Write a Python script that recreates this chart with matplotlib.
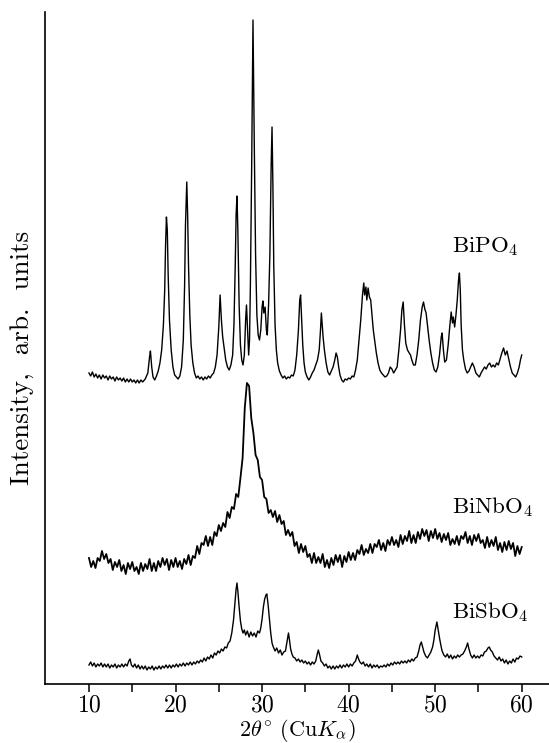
import numpy as np
import matplotlib
matplotlib.use("Agg")
import matplotlib.pyplot as plt

plt.rcParams['font.family'] = ['cmr10', 'DejaVu Serif']
plt.rcParams['mathtext.fontset'] = 'cm'
plt.rcParams['axes.formatter.use_mathtext'] = True

# ---------------- data (arbitrary intensity units, offsets included) ----------------
bipo4_x = [10.0, 10.2, 10.4, 10.6, 10.8, 11.0, 11.2, 11.4, 11.6, 11.8, 12.0, 12.2, 12.4, 12.6, 12.8,
           13.0, 13.2, 13.4, 13.6, 13.8, 14.0, 14.2, 14.4, 14.6, 14.8, 15.0, 15.2, 15.4, 15.6, 15.8,
           16.0, 16.2, 16.5, 16.8, 17.0, 17.1, 17.25, 17.4, 17.6, 17.8, 18.0, 18.2, 18.4, 18.6, 18.75,
           18.85, 18.95, 19.05, 19.15, 19.3, 19.5, 19.7, 19.9, 20.1, 20.3, 20.5, 20.7, 20.9, 21.05, 21.15,
           21.3, 21.4, 21.5, 21.65, 21.8, 22.0, 22.2, 22.4, 22.6, 22.8, 23.0, 23.2, 23.4, 23.6, 23.8,
           24.0, 24.2, 24.4, 24.6, 24.8, 25.0, 25.15, 25.3, 25.45, 25.6, 25.8, 26.0, 26.2, 26.4, 26.6,
           26.75, 26.9, 27.0, 27.1, 27.2, 27.35, 27.5, 27.65, 27.8, 27.95, 28.1, 28.2, 28.3, 28.45, 28.55,
           28.65, 28.8, 28.95, 29.1, 29.25, 29.4, 29.55, 29.7, 29.85, 30.0, 30.1, 30.2, 30.35, 30.5, 30.6,
           30.75, 30.9, 31.05, 31.15, 31.25, 31.35, 31.5, 31.65, 31.8, 32.0, 32.2, 32.4, 32.6, 32.8, 33.0,
           33.2, 33.4, 33.6, 33.8, 34.0, 34.2, 34.35, 34.45, 34.55, 34.7, 34.85, 35.0, 35.2, 35.4, 35.6,
           35.8, 36.0, 36.2, 36.4, 36.6, 36.75, 36.85, 36.95, 37.05, 37.2, 37.4, 37.6, 37.8, 38.0, 38.2,
           38.4, 38.55, 38.7, 38.85, 39.0, 39.2, 39.4, 39.6, 39.8, 40.0, 40.2, 40.4, 40.6, 40.8, 41.0,
           41.2, 41.4, 41.6, 41.75, 41.85, 42.0, 42.1, 42.25, 42.4, 42.55, 42.7, 42.85, 43.0, 43.2, 43.4,
           43.6, 43.8, 44.0, 44.2, 44.4, 44.6, 44.8, 45.0, 45.2, 45.4, 45.6, 45.8, 46.0, 46.15, 46.3,
           46.45, 46.6, 46.8, 47.0, 47.15, 47.3, 47.5, 47.7, 47.9, 48.1, 48.3, 48.5, 48.65, 48.8, 48.95,
           49.1, 49.3, 49.5, 49.7, 49.9, 50.1, 50.3, 50.5, 50.7, 50.8, 50.95, 51.1, 51.3, 51.5, 51.7,
           51.85, 52.0, 52.1, 52.25, 52.4, 52.55, 52.7, 52.8, 52.9, 53.0, 53.15, 53.3, 53.5, 53.7, 53.9,
           54.1, 54.3, 54.5, 54.7, 54.9, 55.1, 55.3, 55.5, 55.7, 55.9, 56.1, 56.3, 56.5, 56.7, 56.9,
           57.1, 57.3, 57.5, 57.7, 57.9, 58.1, 58.3, 58.5, 58.7, 58.9, 59.1, 59.3, 59.5, 59.7, 59.85, 60.0]
bipo4_y = [312, 309, 313, 308, 311, 307, 310, 306, 310, 307, 309, 305, 309, 306, 308,
           304, 308, 305, 307, 304, 307, 303, 306, 303, 306, 303, 305, 302, 305, 302,
           305, 303, 306, 312, 328, 334, 318, 308, 305, 309, 314, 322, 335, 360, 395,
           440, 468, 455, 410, 365, 335, 318, 310, 308, 306, 309, 318, 345, 400, 460,
           503, 470, 420, 370, 340, 322, 312, 307, 309, 306, 308, 305, 308, 306, 309,
           307, 310, 312, 318, 330, 358, 390, 365, 348, 338, 325, 318, 315, 320, 330,
           360, 420, 470, 489, 455, 380, 340, 325, 320, 330, 365, 380, 360, 330, 345,
           400, 520, 665, 540, 430, 370, 350, 345, 355, 378, 384, 372, 378, 355, 350,
           380, 430, 520, 558, 500, 420, 360, 335, 322, 314, 310, 307, 309, 306, 308,
           307, 310, 309, 315, 330, 355, 385, 390, 370, 340, 322, 313, 308, 305, 308,
           312, 315, 320, 325, 335, 355, 372, 360, 348, 335, 322, 313, 310, 314, 318,
           325, 332, 328, 318, 310, 305, 303, 306, 305, 307, 306, 309, 308, 315, 325,
           345, 365, 390, 402, 390, 398, 385, 397, 388, 385, 370, 355, 345, 332, 322,
           315, 312, 310, 308, 309, 312, 318, 316, 312, 315, 318, 335, 355, 375, 383,
           360, 342, 335, 332, 330, 325, 320, 320, 330, 345, 365, 378, 383, 376, 372,
           360, 345, 332, 322, 315, 313, 318, 330, 348, 352, 335, 323, 325, 340, 360,
           373, 362, 368, 358, 370, 385, 405, 412, 395, 360, 335, 325, 316, 312, 314,
           318, 322, 318, 312, 310, 308, 312, 315, 318, 316, 320, 322, 318, 320, 318,
           322, 320, 326, 332, 337, 330, 334, 326, 318, 312, 310, 308, 312, 318, 325, 330]

binbo4_start, binbo4_step = 10.0, 0.25
binbo4_y = [127, 118, 124, 117, 127, 124, 134, 126, 131, 122,
            126, 115, 123, 118, 125, 114, 120, 111, 122, 116,
            123, 114, 118, 111, 122, 114, 121, 116, 126, 114,
            122, 114, 124, 118, 127, 120, 126, 115, 125, 118,
            127, 118, 124, 116, 126, 121, 130, 120, 129, 127,
            139, 131, 142, 140, 149, 139, 148, 140, 153, 149,
            160, 154, 162, 158, 173, 167, 178, 176, 191, 188,
            207, 227, 277, 302, 299, 267, 252, 230, 225, 208,
            205, 188, 186, 172, 175, 168, 174, 163, 170, 161,
            164, 150, 155, 149, 153, 139, 143, 132, 141, 133,
            139, 128, 131, 122, 132, 122, 128, 122, 131, 118,
            125, 117, 127, 120, 130, 123, 130, 118, 129, 123,
            133, 125, 132, 125, 135, 131, 140, 130, 136, 132,
            141, 132, 141, 138, 145, 135, 142, 134, 145, 140,
            148, 140, 145, 138, 150, 141, 149, 144, 154, 142,
            150, 142, 153, 146, 156, 149, 155, 144, 154, 147,
            156, 146, 152, 143, 151, 145, 152, 140, 146, 141,
            149, 140, 149, 146, 153, 142, 149, 140, 150, 144,
            151, 142, 145, 137, 148, 138, 145, 139, 148, 135,
            142, 133, 143, 135, 144, 136, 142, 129, 139, 131,
            138]

bisbo4_x = [10.0, 10.2, 10.4, 10.6, 10.8, 11.0, 11.2, 11.4, 11.6, 11.8, 12.0, 12.2, 12.4, 12.6, 12.8,
            13.0, 13.2, 13.4, 13.6, 13.8, 14.0, 14.2, 14.4, 14.6, 14.75, 14.9, 15.1, 15.3, 15.5, 15.7,
            15.9, 16.1, 16.3, 16.5, 16.7, 16.9, 17.1, 17.3, 17.5, 17.7, 17.9, 18.1, 18.3, 18.5, 18.7,
            18.9, 19.1, 19.3, 19.5, 19.7, 19.9, 20.1, 20.3, 20.5, 20.7, 20.9, 21.1, 21.3, 21.5, 21.7,
            21.9, 22.1, 22.3, 22.5, 22.7, 22.9, 23.1, 23.3, 23.5, 23.7, 23.9, 24.1, 24.3, 24.5, 24.7,
            24.9, 25.1, 25.3, 25.5, 25.7, 25.9, 26.1, 26.3, 26.5, 26.7, 26.85, 27.0, 27.1, 27.2, 27.35,
            27.5, 27.65, 27.8, 27.95, 28.1, 28.3, 28.5, 28.7, 28.9, 29.1, 29.3, 29.5, 29.7, 29.85, 30.0,
            30.15, 30.3, 30.45, 30.55, 30.7, 30.85, 31.0, 31.15, 31.3, 31.5, 31.7, 31.9, 32.1, 32.3, 32.5,
            32.7, 32.85, 33.0, 33.05, 33.15, 33.3, 33.45, 33.6, 33.8, 34.0, 34.2, 34.4, 34.6, 34.8, 35.0,
            35.2, 35.4, 35.6, 35.8, 36.0, 36.2, 36.35, 36.5, 36.65, 36.8, 37.0, 37.2, 37.4, 37.6, 37.8,
            38.0, 38.2, 38.4, 38.6, 38.8, 39.0, 39.2, 39.4, 39.6, 39.8, 40.0, 40.2, 40.4, 40.6, 40.8,
            41.0, 41.15, 41.3, 41.5, 41.7, 41.9, 42.1, 42.3, 42.5, 42.7, 42.9, 43.1, 43.3, 43.5, 43.7,
            43.9, 44.1, 44.3, 44.5, 44.7, 44.9, 45.1, 45.3, 45.5, 45.7, 45.9, 46.1, 46.3, 46.5, 46.7,
            46.9, 47.1, 47.3, 47.5, 47.7, 47.9, 48.1, 48.25, 48.4, 48.55, 48.7, 48.9, 49.1, 49.3, 49.5,
            49.7, 49.85, 50.0, 50.2, 50.35, 50.5, 50.65, 50.8, 51.0, 51.2, 51.4, 51.6, 51.8, 52.0, 52.2,
            52.4, 52.6, 52.8, 53.0, 53.2, 53.4, 53.6, 53.75, 53.9, 54.1, 54.3, 54.5, 54.7, 54.9, 55.1,
            55.3, 55.5, 55.7, 55.9, 56.1, 56.25, 56.4, 56.6, 56.8, 57.0, 57.2, 57.4, 57.6, 57.8, 58.0,
            58.2, 58.4, 58.6, 58.8, 59.0, 59.2, 59.4, 59.6, 59.8, 60.0]
bisbo4_y = [20, 23, 19, 22, 18, 21, 19, 22, 18, 21, 18, 21, 17, 20, 18,
            21, 17, 20, 18, 21, 18, 21, 19, 24, 26, 20, 18, 21, 17, 20,
            16, 19, 16, 19, 15, 18, 16, 19, 15, 18, 16, 19, 16, 19, 17,
            20, 17, 20, 17, 20, 18, 21, 18, 21, 19, 22, 19, 22, 20, 23,
            20, 23, 21, 24, 22, 25, 23, 27, 24, 28, 26, 30, 27, 32, 30,
            34, 32, 36, 34, 38, 37, 42, 44, 52, 65, 80, 96, 102, 94, 78,
            64, 56, 52, 55, 50, 54, 48, 53, 49, 52, 48, 54, 52, 57, 66,
            78, 86, 90, 91, 80, 66, 52, 42, 38, 34, 37, 32, 35, 30, 33,
            34, 42, 50, 52, 46, 36, 31, 28, 27, 24, 26, 23, 25, 22, 24,
            21, 23, 20, 23, 21, 24, 30, 35, 30, 24, 22, 19, 21, 17, 19,
            16, 19, 16, 19, 17, 20, 17, 20, 18, 21, 18, 21, 19, 22, 24,
            30, 26, 23, 21, 23, 19, 21, 18, 21, 17, 20, 18, 20, 17, 19,
            18, 20, 18, 21, 19, 22, 20, 23, 21, 23, 21, 24, 22, 24, 22,
            25, 23, 26, 24, 27, 28, 34, 40, 43, 38, 33, 29, 27, 30, 33,
            38, 45, 55, 63, 55, 47, 40, 34, 30, 28, 31, 27, 30, 26, 29,
            27, 30, 28, 30, 31, 34, 38, 42, 36, 30, 27, 30, 27, 29, 27,
            30, 29, 33, 34, 37, 38, 35, 33, 29, 27, 25, 28, 24, 26, 22,
            25, 21, 24, 22, 26, 23, 27, 26, 29, 28]

labels = [r'BiPO$_4$', r'BiNbO$_4$', r'BiSbO$_4$']
label_y = [433, 172, 67]
label_x = 51.95
xticks_major = [10, 20, 30, 40, 50, 60]
xticks_minor = [15, 25, 35, 45, 55]

binbo4_x = binbo4_start + binbo4_step * np.arange(len(binbo4_y))

# ---------------- figure ----------------
fig = plt.figure(figsize=(5.49, 7.43), dpi=100)
ax = fig.add_axes([45 / 549, (743 - 683.5) / 743, 1 - 45 / 549, (683.5 - 12) / 743])

ax.plot(bipo4_x, bipo4_y, color='black', lw=1.0)
ax.plot(binbo4_x, binbo4_y, color='black', lw=1.3)
ax.plot(bisbo4_x, bisbo4_y, color='black', lw=1.0)

for txt, yy in zip(labels, label_y):
    ax.text(label_x, yy, txt, fontsize=16.5, ha='left', va='baseline')

ax.set_xlim(4.92, 63.15)
ax.set_ylim(1.5, 673)
ax.spines['top'].set_visible(False)
ax.spines['right'].set_visible(False)
ax.spines['left'].set_linewidth(1.2)
ax.spines['bottom'].set_linewidth(1.2)
ax.set_yticks([])
ax.set_xticks(xticks_major)
ax.set_xticks(xticks_minor, minor=True)
ax.tick_params(axis='x', which='both', direction='out', length=6, width=1.1, labelsize=17, pad=2)
ax.set_xlabel(r'$2\theta^{\circ}$ (Cu$K_{\alpha}$)', fontsize=16, labelpad=0)
ax.set_ylabel('Intensity,  arb.  units', fontsize=19.5)
ax.yaxis.set_label_coords(-0.022, 0.485)

fig.savefig('out.png', dpi=100)
